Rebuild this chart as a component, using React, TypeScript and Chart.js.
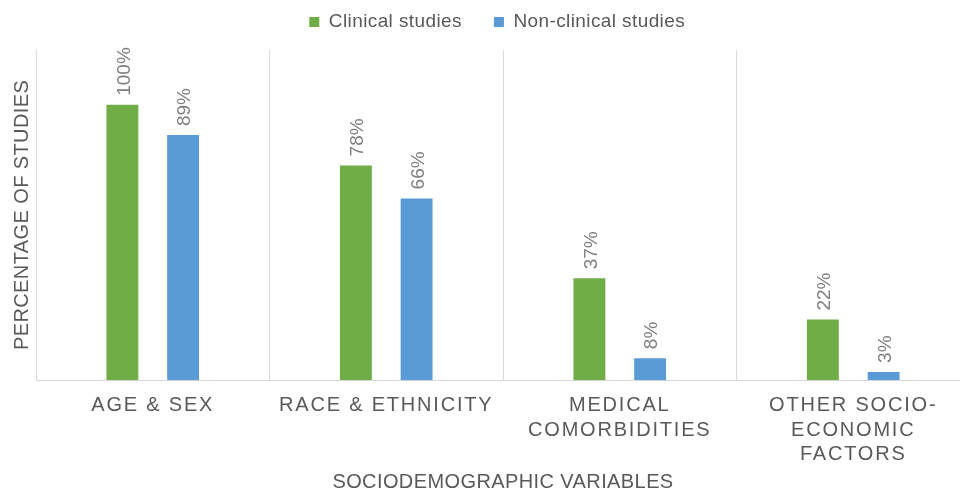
import React, { useEffect, useRef } from 'react';
import { Chart, registerables } from 'chart.js';

Chart.register(...registerables);

const categories: string[][] = [
  ['AGE & SEX'],
  ['RACE & ETHNICITY'],
  ['MEDICAL', 'COMORBIDITIES'],
  ['OTHER SOCIO-', 'ECONOMIC', 'FACTORS'],
];
const clinicalValues = [100, 78, 37, 22];
const nonClinicalValues = [89, 66, 8, 3];
const seriesNames = ['Clinical studies', 'Non-clinical studies'];
const yAxisTitle = 'PERCENTAGE OF STUDIES';
const xAxisTitle = 'SOCIODEMOGRAPHIC VARIABLES';

const FONT = '"Liberation Sans", Arial, sans-serif';
const TEXT = '#595959';
const LABEL = '#7f7f7f';
const GRID = '#d9d9d9';

const valueLabels = {
  id: 'valueLabels',
  beforeDraw(chart: any) {
    chart.ctx.letterSpacing = '0.4px';
  },
  afterDatasetsDraw(chart: any) {
    const ctx = chart.ctx;
    chart.data.datasets.forEach((ds: any, di: number) => {
      const meta = chart.getDatasetMeta(di);
      meta.data.forEach((el: any, i: number) => {
        ctx.save();
        ctx.letterSpacing = '0px';
        ctx.font = `19px ${FONT}`;
        ctx.fillStyle = LABEL;
        ctx.textAlign = 'left';
        ctx.textBaseline = 'middle';
        ctx.translate(el.x + 2, el.y - 9);
        ctx.rotate(-Math.PI / 2);
        ctx.fillText(`${ds.data[i]}%`, 0, 0);
        ctx.restore();
      });
    });
    // x-axis tick labels (drawn after datasets, ticks.z = 1) use wider letter spacing
    ctx.letterSpacing = '1.8px';
  },
  afterDraw(chart: any) {
    chart.ctx.letterSpacing = '0px';
  },
};

export default function App() {
  const ref = useRef<HTMLCanvasElement | null>(null);
  useEffect(() => {
    document.body.style.overflow = 'hidden';
    if (!ref.current) return;
    const chart = new Chart(ref.current, {
      type: 'bar',
      data: {
        labels: categories,
        datasets: [
          {
            label: seriesNames[0],
            data: clinicalValues,
            backgroundColor: '#70AD47',
            categoryPercentage: 0.52,
            barPercentage: 0.525,
          },
          {
            label: seriesNames[1],
            data: nonClinicalValues,
            backgroundColor: '#5B9BD5',
            categoryPercentage: 0.52,
            barPercentage: 0.525,
          },
        ],
      },
      options: {
        animation: false,
        responsive: true,
        maintainAspectRatio: false,
        font: { family: FONT },
        layout: { padding: { left: 10, right: 2, top: -19.5, bottom: 0 } },
        plugins: {
          legend: {
            position: 'top',
            labels: {
              color: TEXT,
              font: { family: FONT, size: 19 },
              boxWidth: 10,
              boxHeight: 10,
              padding: 32,
            },
          },
          subtitle: {
            display: true,
            position: 'top',
            weight: 500,
            text: '',
            font: { size: 1 },
            padding: { top: 0, bottom: 7 },
          },
          title: {
            display: true,
            position: 'bottom',
            fullSize: false,
            text: xAxisTitle,
            color: TEXT,
            font: { family: FONT, size: 20, weight: 'normal' },
            padding: { top: -10, bottom: 6 },
          },
          tooltip: { enabled: false },
        },
        scales: {
          x: {
            grid: {
              display: true,
              color: GRID,
              lineWidth: 1,
              drawTicks: false,
              offset: true,
            },
            border: { display: true, color: GRID },
            ticks: {
              z: 1,
              color: TEXT,
              font: { family: FONT, size: 20, lineHeight: 1.23 },
              padding: 13,
              maxRotation: 0,
              autoSkip: false,
            },
          },
          y: {
            min: 0,
            max: 120,
            grid: { display: false, drawTicks: false },
            border: { display: false },
            ticks: { display: false },
            title: {
              display: true,
              text: yAxisTitle,
              color: TEXT,
              font: { family: FONT, size: 20 },
              padding: { top: 0, bottom: 2 },
            },
          },
        },
      },
      plugins: [valueLabels],
    });
    return () => chart.destroy();
  }, []);
  return (
    <div style={{ position: 'fixed', left: 0, top: 0, width: 972, height: 500, overflow: 'hidden' }}>
      <canvas ref={ref} />
    </div>
  );
}
